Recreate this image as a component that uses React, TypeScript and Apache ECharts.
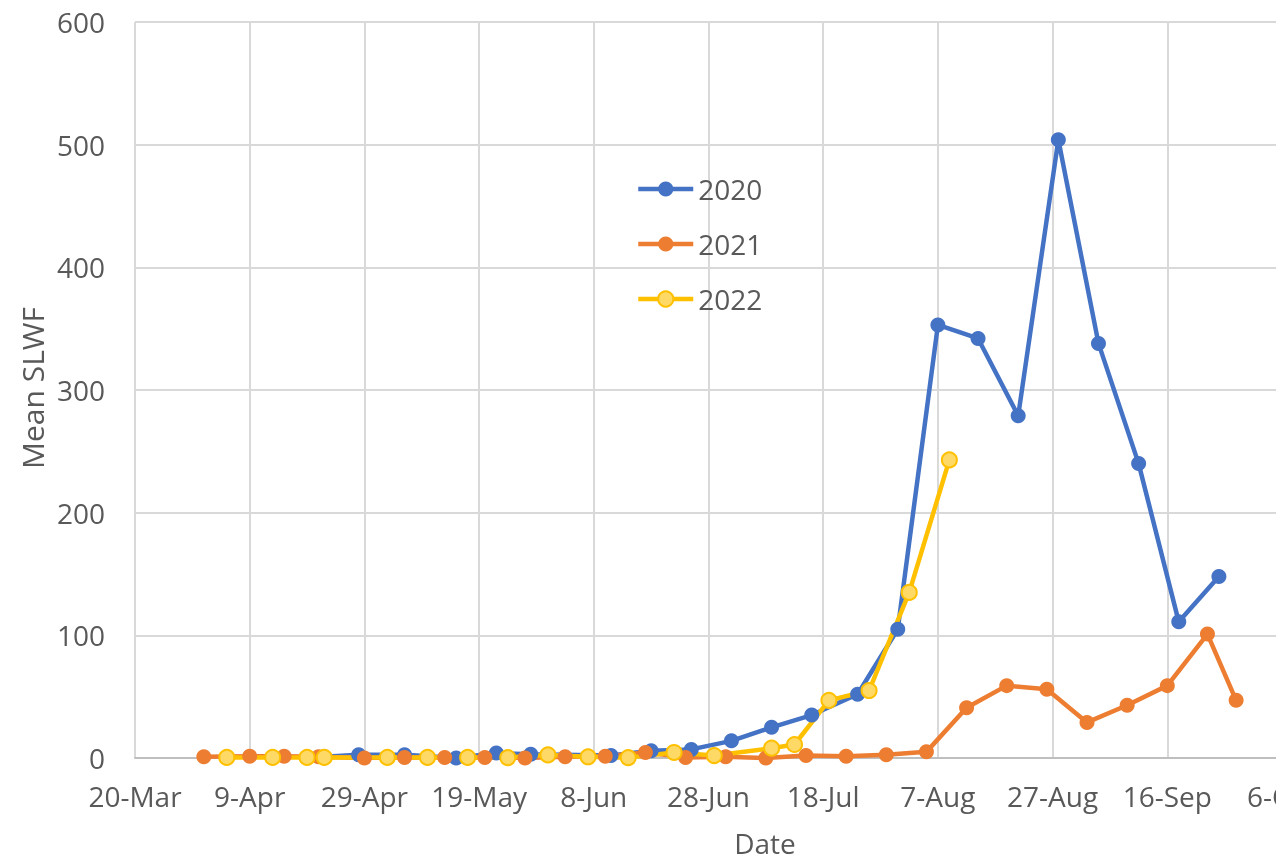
import React, { useEffect, useRef } from "react";
import * as echarts from "echarts";

const tickLabels = ["20-Mar", "9-Apr", "29-Apr", "19-May", "8-Jun", "28-Jun", "18-Jul", "7-Aug", "27-Aug", "16-Sep", "6-Oct"];

const dates2020 = ["2020-04-22", "2020-04-28", "2020-05-06", "2020-05-15", "2020-05-22", "2020-05-28", "2020-06-11", "2020-06-18", "2020-06-25", "2020-07-02", "2020-07-09", "2020-07-16", "2020-07-24", "2020-07-31", "2020-08-07", "2020-08-14", "2020-08-21", "2020-08-28", "2020-09-04", "2020-09-11", "2020-09-18", "2020-09-25"];
const values2020 = [1, 2.7, 2.7, 0, 4, 3, 2, 6, 7, 14, 25, 35, 52, 105, 353, 342, 279, 504, 338, 240, 111, 148];

const dates2021 = ["2021-04-01", "2021-04-09", "2021-04-15", "2021-04-21", "2021-04-29", "2021-05-06", "2021-05-13", "2021-05-20", "2021-05-27", "2021-06-03", "2021-06-10", "2021-06-17", "2021-06-24", "2021-07-01", "2021-07-08", "2021-07-15", "2021-07-22", "2021-07-29", "2021-08-05", "2021-08-12", "2021-08-19", "2021-08-26", "2021-09-02", "2021-09-09", "2021-09-16", "2021-09-23", "2021-09-28"];
const values2021 = [1, 1.5, 1.5, 1, 0, 0.5, 0.5, 0.5, 0, 1, 1.5, 4.5, 0.5, 1, 0, 2, 1.5, 2.7, 5, 41, 59, 56, 29, 43, 59, 101, 47];

const dates2022 = ["2022-04-05", "2022-04-13", "2022-04-19", "2022-04-22", "2022-05-03", "2022-05-10", "2022-05-17", "2022-05-24", "2022-05-31", "2022-06-07", "2022-06-14", "2022-06-22", "2022-06-29", "2022-07-09", "2022-07-13", "2022-07-19", "2022-07-26", "2022-08-02", "2022-08-09"];
const values2022 = [0.5, 0.5, 0.5, 0.5, 0.5, 0.5, 0.5, 0.3, 2.5, 1, 0.3, 4.5, 2, 8, 11, 47, 55, 135, 243];

const DAY = 86400000;
function dayOffset(s: string): number {
  const year = s.slice(0, 4);
  return Math.round((Date.parse(s) - Date.parse(year + "-03-20")) / DAY);
}
function toPoints(dates: string[], values: number[]) {
  return dates.map((d, i) => [dayOffset(d), values[i]]);
}

const FONT = "'Open Sans', sans-serif";
const TEXT = "#595959";

export default function App() {
  const ref = useRef<HTMLDivElement>(null);
  useEffect(() => {
    if (!ref.current) return;
    const chart = echarts.init(ref.current, undefined, { renderer: "svg" });
    const mk = (name: string, color: string, fill: string, dates: string[], values: number[]) => ({
      name,
      type: "line",
      data: toPoints(dates, values),
      symbol: "circle",
      symbolSize: 15,
      showAllSymbol: true,
      lineStyle: { color, width: 4.5 },
      itemStyle: { color: fill, borderColor: color, borderWidth: fill === color ? 0 : 2 },
      emphasis: { disabled: true },
    });
    chart.setOption({
      animation: false,
      textStyle: { fontFamily: FONT },
      grid: { left: 135, right: -6, top: 22, bottom: 106, containLabel: false, outerBoundsMode: "none" },
      legend: {
        orient: "vertical",
        left: 636,
        top: 175,
        padding: 0,
        itemWidth: 55,
        itemHeight: 19,
        itemGap: 27,
        lineStyle: { width: 4.5 },
        textStyle: { fontSize: 28, color: TEXT, fontFamily: FONT },
        data: ["2020", "2021", "2022"],
      },
      xAxis: {
        type: "value",
        min: 0,
        max: 200,
        interval: 20,
        axisLine: { show: true, lineStyle: { color: "#BFBFBF", width: 2 } },
        axisTick: { show: false },
        splitLine: { show: true, lineStyle: { color: "#D9D9D9", width: 2 } },
        axisLabel: {
          color: TEXT,
          fontSize: 28,
          fontFamily: FONT,
          margin: 24,
          showMinLabel: true,
          showMaxLabel: true,
          hideOverlap: false,
          formatter: (v: number) => tickLabels[Math.round(v / 20)] ?? "",
        },
      },
      yAxis: {
        type: "value",
        min: 0,
        max: 600,
        interval: 100,
        axisLine: { show: false },
        axisTick: { show: false },
        splitLine: { show: true, lineStyle: { color: "#D9D9D9", width: 2 } },
        axisLabel: { color: TEXT, fontSize: 28, fontFamily: FONT, margin: 30 },
      },
      graphic: [
        {
          type: "text",
          x: 765,
          y: 843,
          style: { text: "Date", fill: TEXT, font: "28px 'Open Sans', sans-serif", align: "center", verticalAlign: "middle" },
        },
        {
          type: "text",
          x: 32,
          y: 388,
          rotation: Math.PI / 2,
          style: { text: "Mean SLWF", fill: TEXT, font: "30px 'Open Sans', sans-serif", align: "center", verticalAlign: "middle" },
        },
      ],
      series: [
        mk("2020", "#4472C4", "#4472C4", dates2020, values2020),
        mk("2021", "#ED7D31", "#ED7D31", dates2021, values2021),
        mk("2022", "#FFC000", "#FFD966", dates2022, values2022),
      ],
    });
    return () => chart.dispose();
  }, []);
  return <div ref={ref} style={{ position: "fixed", left: 0, top: 0, width: 1276, height: 864 }} />;
}
